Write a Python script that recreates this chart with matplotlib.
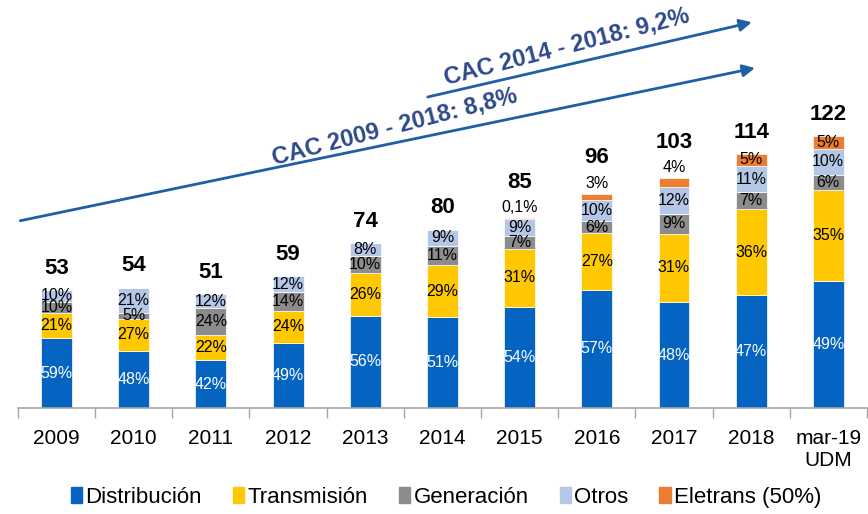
import matplotlib
matplotlib.use('Agg')
import matplotlib.pyplot as plt
import matplotlib.patches as mpatches
import numpy as np

plt.rcParams['font.family'] = ['Liberation Sans', 'DejaVu Sans']

# ── Data ─────────────────────────────────────────────────────────────────────
years  = ['2009', '2010', '2011', '2012', '2013', '2014', '2015', '2016',
          '2017', '2018', 'mar-19\nUDM']
totals = [53, 54, 51, 59, 74, 80, 85, 96, 103, 114, 122]

series = ['Distribución', 'Transmisión', 'Generación', 'Otros', 'Eletrans (50%)']
pct_dist  = [59, 48, 42, 49, 56, 51, 54, 57, 48, 47, 49]
pct_trans = [21, 27, 22, 24, 26, 29, 31, 27, 31, 36, 35]
pct_gen   = [10, 5, 24, 14, 10, 11, 7, 6, 9, 7, 6]
pct_otros = [10, 21, 12, 12, 8, 9, 9, 10, 12, 11, 10]
pct_eletr = [0, 0, 0, 0, 0, 0, 0.1, 3, 4, 5, 5]

cac_labels = ['CAC 2009 - 2018: 8,8%', 'CAC 2014 - 2018: 9,2%']

COLORS = ['#0563C1', '#FFC800', '#8C8C8C', '#B4C7E7', '#ED7D31']
TXT_COL = ['white', 'black', 'black', 'black', 'black']
ARROW = '#1F5FA6'
CAC_TXT = '#2E4A8C'

# ── Figure ───────────────────────────────────────────────────────────────────
fig = plt.figure(figsize=(8.68, 5.14), dpi=100)
ax = fig.add_axes([0.0207, 0.2062, 0.978, 0.7938])

x = np.arange(len(years))
pcts = np.array([pct_dist, pct_trans, pct_gen, pct_otros, pct_eletr], dtype=float)
tot = np.array(totals, dtype=float)
vals = pcts / pcts.sum(axis=0) * tot

bottom = np.zeros(len(years))
for k, name in enumerate(series):
    ax.bar(x, vals[k], 0.4, bottom=bottom, color=COLORS[k], edgecolor='white',
           linewidth=0.5, label=name)
    for i in range(len(years)):
        p = pcts[k, i]
        if p == 0:
            continue
        lab = f'{p:g}%'.replace('.', ',')
        if k == 4 and p < 4.5:
            # small slice: label sits just above the bar
            ax.text(x[i], tot[i] + 1.5, lab, ha='center', va='bottom',
                    fontsize=11.5, color='black')
        else:
            ax.text(x[i], bottom[i] + vals[k, i] / 2, lab, ha='center',
                    va='center', fontsize=11.5, color=TXT_COL[k])
    bottom += vals[k]

# totals
for i in range(len(years)):
    off = 11.5 if 0 < pct_eletr[i] < 4.5 else 5.0
    ax.text(x[i], tot[i] + off, str(totals[i]), ha='center', va='bottom',
            fontsize=16, fontweight='bold', color='black')

# CAC arrows
ax.annotate('', xy=(9.05, 152.5), xytext=(-0.47, 84),
            arrowprops=dict(arrowstyle='-|>', color=ARROW, lw=2,
                            mutation_scale=18, shrinkA=0, shrinkB=0))
ax.annotate('', xy=(9.01, 173), xytext=(4.81, 139.5),
            arrowprops=dict(arrowstyle='-|>', color=ARROW, lw=2,
                            mutation_scale=18, shrinkA=0, shrinkB=0))
ax.text(4.38, 126, cac_labels[0], ha='center', va='center', rotation=14.5,
        fontsize=17, fontweight='bold', color=CAC_TXT)
ax.text(6.61, 162, cac_labels[1], ha='center', va='center', rotation=14.5,
        fontsize=17, fontweight='bold', color=CAC_TXT)

# axes styling
ax.set_xlim(-0.5, len(years) - 0.5)
ax.set_ylim(0, 183)
ax.set_xticks(x)
ax.set_xticklabels(years, fontsize=15, va='top')
ax.set_xticks(np.arange(-0.5, len(years)), minor=True)
ax.tick_params(axis='x', which='major', length=0, pad=15)
ax.tick_params(axis='x', which='minor', length=7, color='#A6A6A6', width=1)
ax.set_yticks([])
for s in ['top', 'right', 'left']:
    ax.spines[s].set_visible(False)
ax.spines['bottom'].set_color('#A6A6A6')
ax.spines['bottom'].set_linewidth(1.2)

handles = [mpatches.Patch(color=c) for c in COLORS]
fig.legend(handles, series, loc='lower center', bbox_to_anchor=(0.514, -0.005),
           ncol=5, frameon=False, fontsize=16, handlelength=0.5,
           handleheight=0.75, handletextpad=0.15, columnspacing=1.4,
           borderaxespad=0)

fig.savefig('out.png', dpi=100)
